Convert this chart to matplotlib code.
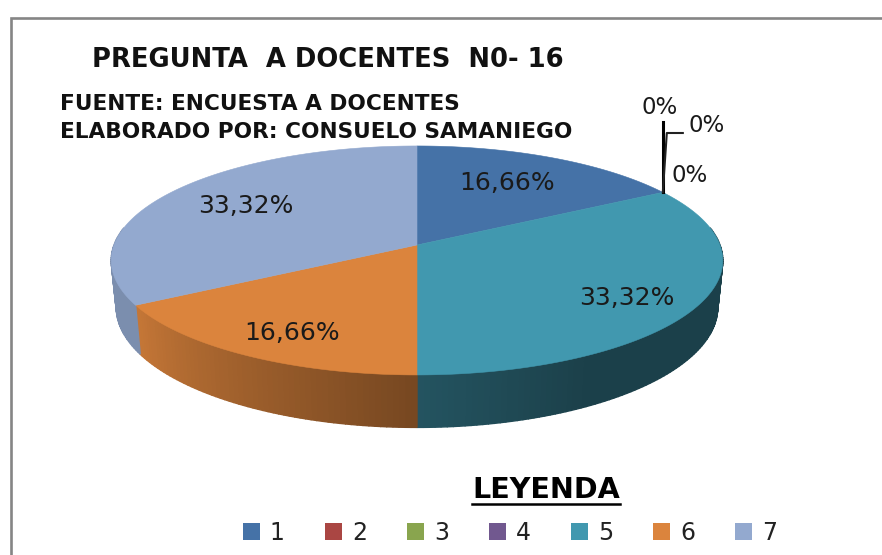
import numpy as np
import matplotlib
matplotlib.use("Agg")
import matplotlib.pyplot as plt
from matplotlib.patches import Polygon, Patch

categories = ["1", "2", "3", "4", "5", "6", "7"]
values = [16.66, 0, 0, 0, 33.32, 16.66, 33.32]
colors = ["#4572A7", "#AA4643", "#89A54E", "#71588F", "#4198AF", "#DB843D", "#93A9CF"]

title = "PREGUNTA  A DOCENTES  N0- 16"
source_lines = ["FUENTE: ENCUESTA A DOCENTES", "ELABORADO POR: CONSUELO SAMANIEGO"]
legend_title = "LEYENDA"


def project(theta, cx, cy, bx, ay):
    # theta in degrees, clockwise from the top of the pie, with some perspective
    t = np.radians(theta)
    u, v = np.sin(t), -np.cos(t)
    w = 1 - 0.135 * v
    return cx + bx * u / w, cy + ay * v / w


def top_rim(theta):
    return project(theta, 417, 245, 303, 112.4)


def bottom_rim(theta):
    return project(theta, 417, 291, 298, 118)


def side_shade(idx, theta):
    # how dark the wall of the pie gets, this is per slice in the original
    if idx == 4:
        return np.interp(theta, [60, 150, 180], [0.42, 0.42, 0.55])
    if idx == 5:
        return np.interp(theta, [180, 240], [0.54, 0.90])
    return 0.84


def pct_label(v):
    if v == 0:
        return "0%"
    return f"{v:.2f}".replace(".", ",") + "%"


fig = plt.figure(figsize=(8.82, 5.55), dpi=100)
ax = fig.add_axes([0, 0, 1, 1])
ax.set_xlim(0, 882)
ax.set_ylim(555, 0)
ax.axis("off")

# outer frame, only top and left are in the picture
ax.plot([883, 10.5, 10.5], [17.5, 17.5, 556], color="#858585", lw=1.9, zorder=1, solid_joinstyle="miter")

edges = np.concatenate([[0], np.cumsum(values)]) / np.sum(values) * 360

# walls first, only the part facing us
for i, v in enumerate(values):
    if v == 0:
        continue
    steps = np.arange(edges[i], edges[i + 1] + 0.01, 1.0)
    for a, b in zip(steps[:-1], steps[1:]):
        if np.cos(np.radians((a + b) / 2)) > 0.15:
            continue
        x1, y1 = top_rim(np.array([a, b]))
        x2, y2 = bottom_rim(np.array([b, a]))
        shade = side_shade(i, (a + b) / 2)
        rgb = np.array(matplotlib.colors.to_rgb(colors[i])) * shade
        ax.add_patch(Polygon(np.column_stack([np.r_[x1, x2], np.r_[y1, y2]]),
                             facecolor=rgb, edgecolor=rgb, lw=1.0, zorder=2))

# top of the pie
for i, v in enumerate(values):
    if v == 0:
        continue
    theta = np.linspace(edges[i], edges[i + 1], 120)
    x, y = top_rim(theta)
    ax.add_patch(Polygon(np.column_stack([np.r_[417, x], np.r_[245, y]]),
                         facecolor=colors[i], edgecolor=colors[i], lw=0.4, zorder=3))

# leader lines of the zero slices
lx, ly = top_rim(np.array([edges[1]]))
lx, ly = lx[0], ly[0]
ax.plot([lx, lx], [ly, 122], color="black", lw=2.2, zorder=4)
ax.plot([lx, lx + 4, lx + 20], [ly, 133, 133], color="#222222", lw=1.5, zorder=4)

# data labels
label_pos = {0: (507, 183), 1: (660, 108), 2: (707, 125), 3: (690, 176),
             4: (627, 298), 5: (292, 333), 6: (246, 206)}
for i, v in enumerate(values):
    px, py = label_pos[i]
    fs = 16.5 if v == 0 else 18
    ax.text(px, py, pct_label(v), ha="center", va="center", fontsize=fs,
            color="#1a1a1a", family="DejaVu Sans", zorder=5)

ax.text(92, 60, title, fontsize=18.6, fontweight="bold", family="DejaVu Sans",
        ha="left", va="center", color="#111111")
ax.text(60, 104, source_lines[0], fontsize=15.6, fontweight="bold", family="DejaVu Sans",
        ha="left", va="center", color="#111111")
ax.text(60, 132, source_lines[1], fontsize=15.6, fontweight="bold", family="DejaVu Sans",
        ha="left", va="center", color="#111111")

ax.text(546, 490, legend_title, fontsize=20.6, fontweight="bold", family="DejaVu Sans",
        ha="center", va="center", color="black")
ax.plot([472, 620], [504, 504], color="black", lw=1.8)

handles = [Patch(facecolor=c, edgecolor="none", label=n) for c, n in zip(colors, categories)]
leg = ax.legend(handles=handles, ncol=7, loc="center left", bbox_to_anchor=(243, 533),
                bbox_transform=ax.transData, frameon=False, borderpad=0,
                borderaxespad=0, handlelength=0.72, handleheight=0.72, handletextpad=0.42,
                columnspacing=1.7, prop={"family": "DejaVu Sans", "size": 17})
for t in leg.get_texts():
    t.set_color("#222222")

fig.savefig("out.png", dpi=100, facecolor="white")
